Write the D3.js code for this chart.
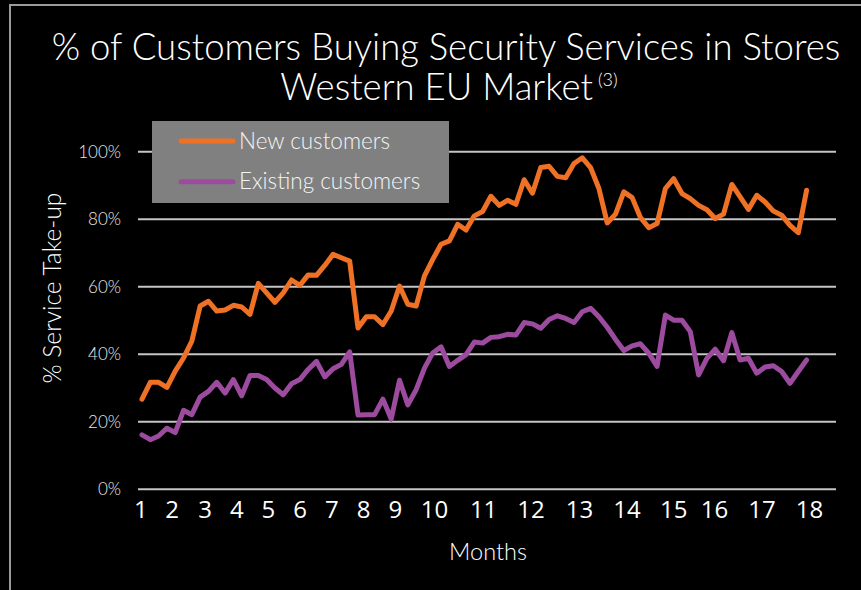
<!DOCTYPE html>
<html><head><meta charset="utf-8">
<script src="https://cdn.jsdelivr.net/npm/d3@7"></script>
<style>
html,body{margin:0;padding:0;background:#000;}
svg{display:block;}
</style></head>
<body>
<svg id="chart" width="861" height="590"></svg>
<script>
// ---- data ----
const titleLine1 = "% of Customers Buying Security Services in Stores";
const titleLine2 = "Western EU Market";
const titleNote = "(3)";
const yAxisTitle = "% Service Take-up";
const xAxisTitle = "Months";
const seriesNames = ["New customers", "Existing customers"];
const newCustomers = [26.7,31.7,31.7,30.2,35.0,38.9,43.9,54.3,55.7,52.8,53.1,54.5,54.0,51.8,61.0,58.2,55.4,58.2,62.0,60.4,
  63.5,63.4,66.3,69.6,68.6,67.6,47.8,51.1,51.1,48.8,52.8,60.2,54.8,54.3,63.2,68.1,72.6,73.6,78.5,76.8,
  81.0,82.3,86.8,84.1,85.6,84.4,91.7,87.7,95.3,95.7,92.7,92.3,96.5,98.2,95.3,89.1,78.9,81.5,88.1,86.4,
  80.5,77.5,78.7,89.1,92.0,87.6,86.1,84.1,82.8,80.2,81.5,90.3,86.6,82.9,87.1,85.1,82.4,81.2,78.2,76.0,88.6];
const existingCustomers = [16.1,14.7,15.8,18.1,16.8,23.4,22.1,27.3,29.0,31.7,28.5,32.5,27.7,33.7,33.7,32.5,30.0,28.0,31.3,32.5,
  35.5,37.9,33.3,35.7,37.0,40.7,22.0,22.1,22.1,26.7,20.8,32.3,25.0,29.5,35.9,40.4,42.2,36.4,38.2,39.9,
  43.6,43.3,45.0,45.2,45.9,45.7,49.4,49.0,47.7,50.3,51.4,50.6,49.4,52.6,53.6,51.1,48.0,44.4,41.1,42.5,
  43.1,40.3,36.4,51.6,50.1,50.1,46.7,33.9,38.8,41.5,38.1,46.4,38.3,38.8,34.4,36.2,36.6,34.9,31.4,34.9,38.3];
const monthLabels = ["1","2","3","4","5","6","7","8","9","10","11","12","13","14","15","16","17","18"];
// position of each month label, in data-point units
const monthPos = [-0.19,3.57,7.54,11.36,15.16,18.98,22.8,26.61,30.44,35.16,41.06,46.77,52.61,58.32,63.94,68.84,74.56,80.28];
const yTicks = [0,20,40,60,80,100];

// ---- drawing ----
const svg = d3.select("#chart");
const colors = ["#ef7125", "#9c4b9f"];
const plotLeft = 138, plotRight = 836;
const x = d3.scaleLinear().domain([0, newCustomers.length - 1]).range([142, 806.6]);
const y = d3.scaleLinear().domain([0, 100]).range([489.3, 151.7]);
const titleFont = "Lato, 'Open Sans', sans-serif";

// frame
svg.append("path").attr("d", "M10,600 L10,5 L870,5").attr("fill", "none")
  .attr("stroke", "#9a9a9a").attr("stroke-width", 2);

// title
svg.append("text").attr("x", 446).attr("y", 60).attr("text-anchor", "middle")
  .attr("fill", "#fff").style("font-family", titleFont).style("font-weight", 300)
  .style("font-size", "36.5px").text(titleLine1);
const t2 = svg.append("text").attr("x", 449).attr("y", 100).attr("text-anchor", "middle")
  .attr("fill", "#fff").style("font-family", titleFont).style("font-weight", 300).style("font-size", "36.5px");
t2.append("tspan").text(titleLine2);
t2.append("tspan").attr("dy", -14).attr("dx", 5).style("font-size", "18px").text(titleNote);

// gridlines
const yAxis = d3.axisLeft(y).tickValues(yTicks).tickFormat(d => d + "%").tickSize(0).tickPadding(17);
const gy = svg.append("g").attr("transform", `translate(${plotLeft},0)`).call(yAxis);
gy.select(".domain").remove();
gy.selectAll("text").attr("fill", "#e8e8e8").style("font-family", titleFont).style("font-weight", 300).style("font-size", "17px");
svg.append("g").selectAll("line").data(yTicks).join("line")
  .attr("x1", plotLeft).attr("x2", plotRight).attr("y1", d => y(d)).attr("y2", d => y(d))
  .attr("stroke", "#c4c4c4").attr("stroke-width", 2);

// x axis labels
const xAxis = d3.axisBottom(x).tickValues(monthPos).tickFormat((d, i) => monthLabels[i]).tickSize(0).tickPadding(12);
const gx = svg.append("g").attr("transform", `translate(0,${y(0)})`).call(xAxis);
gx.select(".domain").remove();
gx.selectAll("text").attr("fill", "#fff").style("font-family", "'Open Sans', sans-serif").style("font-size", "24px");

// axis titles
svg.append("text").attr("x", 488).attr("y", 560).attr("text-anchor", "middle").attr("fill", "#fff")
  .style("font-family", titleFont).style("font-weight", 300).style("font-size", "23.5px").text(xAxisTitle);
svg.append("text").attr("transform", "translate(61,288) rotate(-90)").attr("text-anchor", "middle").attr("fill", "#fff")
  .style("font-family", titleFont).style("font-weight", 300).style("font-size", "24.5px").text(yAxisTitle);

// lines
const line = d3.line().x((d, i) => x(i)).y(d => y(d));
[newCustomers, existingCustomers].forEach((s, k) => {
  svg.append("path").datum(s).attr("d", line).attr("fill", "none").attr("stroke", colors[k])
    .attr("stroke-width", 5).attr("stroke-linejoin", "round").attr("stroke-linecap", "round");
});

// legend
const lg = svg.append("g");
lg.append("rect").attr("x", 152).attr("y", 121).attr("width", 297).attr("height", 82).attr("fill", "#808080");
seriesNames.forEach((nm, k) => {
  const yy = 141 + k * 40.7;
  lg.append("line").attr("x1", 181).attr("x2", 233).attr("y1", yy).attr("y2", yy)
    .attr("stroke", colors[k]).attr("stroke-width", 5).attr("stroke-linecap", "round");
  lg.append("text").attr("x", 239).attr("y", yy + 7.5).attr("fill", "#f4f4f4")
    .style("font-family", titleFont).style("font-weight", 300).style("font-size", "22.5px").text(nm);
});
</script>
</body></html>
